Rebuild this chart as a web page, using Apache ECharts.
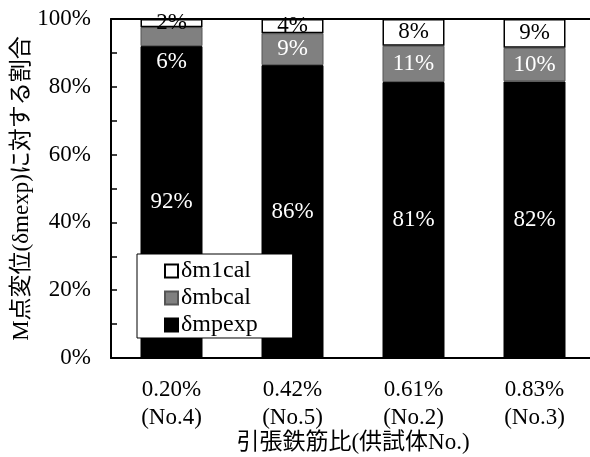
<!DOCTYPE html>
<html>
<head>
<meta charset="utf-8">
<script src="https://cdn.jsdelivr.net/npm/echarts@6/dist/echarts.min.js"></script>
<style>
html,body{margin:0;padding:0;background:#fff;}
#c{width:590px;height:457px;}
</style>
</head>
<body>
<div id="c"></div>
<script>
const categories = ['0.20%\n(No.4)', '0.42%\n(No.5)', '0.61%\n(No.2)', '0.83%\n(No.3)'];
const seriesNames = ['δm1cal', 'δmbcal', 'δmpexp'];
const mpexp = [92.0, 86.4, 81.4, 81.6];
const mbcal = [5.6, 9.4, 10.7, 9.9];
const m1cal = [2.4, 4.2, 7.9, 8.5];
const yTicks = [0, 20, 40, 60, 80, 100];
const xTitle = '引張鉄筋比(供試体No.)';
const yTitle = 'M点変位(δmexp)に対する割合';

const FONT = '"Liberation Serif", "Noto Sans CJK JP", serif';
const pct = p => Math.round(p.value) + '%';
const lblBase = { show: true, fontFamily: FONT, fontSize: 23, formatter: pct };

const chart = echarts.init(document.getElementById('c'), null, { renderer: 'canvas' });
chart.setOption({
  animation: false,
  backgroundColor: '#fff',
  grid: { left: 111, top: 19, width: 484, height: 339, show: false, containLabel: false, outerBoundsMode: 'none' },
  legend: {
    orient: 'vertical',
    left: 137, top: 254,
    data: seriesNames,
    backgroundColor: '#fff',
    borderColor: '#000',
    borderWidth: 1,
    padding: [5, 35, 1, 27],
    itemWidth: 13, itemHeight: 13,
    itemGap: 3,
    icon: 'rect',
    textStyle: { fontFamily: FONT, fontSize: 24, color: '#000', lineHeight: 22, padding: [0, 0, 0, -2] }
  },
  xAxis: [{
    type: 'category',
    data: categories,
    name: xTitle,
    nameLocation: 'middle',
    nameGap: 73,
    nameMoveOverlap: false,
    nameTextStyle: { fontFamily: FONT, fontSize: 23, color: '#000' },
    axisLine: { lineStyle: { color: '#000', width: 2 } },
    axisTick: { inside: true, length: 6, lineStyle: { color: '#000', width: 1.5 } },
    axisLabel: { margin: 18, fontFamily: FONT, fontSize: 23, color: '#000', lineHeight: 28 }
  }, {
    type: 'category',
    data: categories,
    position: 'top',
    axisLine: { show: true, lineStyle: { color: '#000', width: 2 } },
    axisTick: { show: false },
    axisLabel: { show: false }
  }],
  yAxis: {
    type: 'value',
    min: 0, max: 100, interval: 10,
    name: yTitle,
    nameLocation: 'middle',
    nameGap: 78,
    nameMoveOverlap: false,
    nameTextStyle: { fontFamily: FONT, fontSize: 23, color: '#000' },
    axisLine: { show: true, lineStyle: { color: '#000', width: 2 } },
    axisTick: { show: true, inside: true, length: 6, lineStyle: { color: '#000', width: 1.5 } },
    splitLine: { show: false },
    axisLabel: {
      margin: 20, fontFamily: FONT, fontSize: 23, color: '#000',
      formatter: v => yTicks.includes(v) ? v + '%' : ''
    }
  },
  series: [
    {
      name: 'δmpexp', type: 'bar', stack: 'a', barWidth: 62,
      data: mpexp,
      itemStyle: { color: '#000', borderColor: '#000', borderWidth: 1 },
      label: Object.assign({}, lblBase, { position: 'inside', color: '#fff' })
    },
    {
      name: 'δmbcal', type: 'bar', stack: 'a', barWidth: 62,
      data: mbcal.map((v, i) => i === 0
        ? { value: v, label: { position: 'bottom', distance: 4 } }
        : v),
      itemStyle: { color: '#808080', borderColor: '#555', borderWidth: 1 },
      label: Object.assign({}, lblBase, { position: 'inside', color: '#fff' })
    },
    {
      name: 'δm1cal', type: 'bar', stack: 'a', barWidth: 62,
      data: m1cal,
      itemStyle: { color: '#fff', borderColor: '#000', borderWidth: 1.5 },
      label: Object.assign({}, lblBase, { position: 'inside', color: '#000' })
    }
  ]
});
</script>
</body>
</html>
